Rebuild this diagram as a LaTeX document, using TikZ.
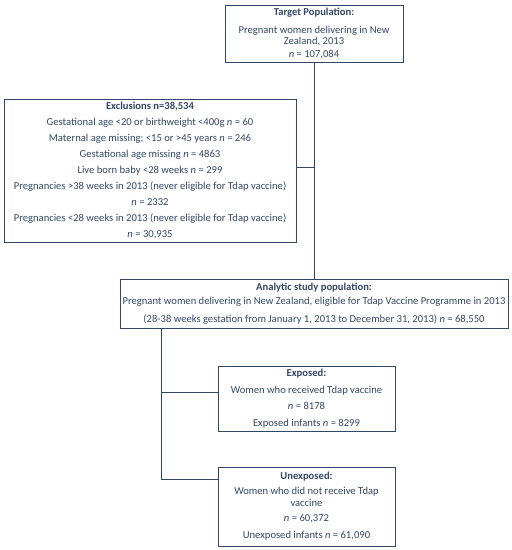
\documentclass[tikz,border=0pt]{standalone}
\usepackage{fontspec}
\setmainfont{Carlito}
\definecolor{chartblue}{RGB}{50,70,102}
\begin{document}
\begin{tikzpicture}[x=1pt, y=-1pt,
  every node/.style={text=chartblue, align=center,
    font=\fontsize{10.6}{12}\selectfont},
  box/.style={draw=chartblue, line width=1pt, inner sep=0pt},
  link/.style={draw=chartblue, line width=1pt}]
\useasboundingbox (0,0) rectangle (512,550);

\node[box, minimum width=178pt, minimum height=57pt] (target) at (314,33.5)
  {\textbf{Target Population:}\\[5.6pt]
   Pregnant women delivering in New\\[-1pt] Zealand, 2013\\[1pt]
   \textit{n} = 107,084};

\node[box, minimum width=292pt, minimum height=143pt] (excl) at (150,170.5)
  {\textbf{Exclusions n=38,534}\\[4pt]
   Gestational age {<}20 or birthweight {<}400g \textit{n} = 60\\[4pt]
   Maternal age missing; {<}15 or {>}45 years \textit{n} = 246\\[4pt]
   Gestational age missing \textit{n} = 4863\\[4pt]
   Live born baby {<}28 weeks \textit{n} = 299\\[4pt]
   Pregnancies {>}38 weeks in 2013 (never eligible for Tdap vaccine)\\[4pt]
   \textit{n} = 2332\\[4pt]
   Pregnancies {<}28 weeks in 2013 (never eligible for Tdap vaccine)\\[4pt]
   \textit{n} = 30,935};

\node[box, minimum width=388pt, minimum height=49pt] (analytic) at (314,303.5)
  {\textbf{Analytic study population:}\\[2pt]
   Pregnant women delivering in New Zealand, eligible for Tdap Vaccine Programme in 2013\\[6pt]
   (28-38 weeks gestation from January 1, 2013 to December 31, 2013) \textit{n} = 68,550};

\node[box, minimum width=177pt, minimum height=65pt] (exposed) at (306.5,398.5)
  {\textbf{Exposed:}\\[4.5pt]
   Women who received Tdap vaccine\\[4.5pt]
   \textit{n} = 8178\\[4.5pt]
   Exposed infants \textit{n} = 8299};

\node[box, minimum width=177pt, minimum height=79pt] (unexposed) at (306.5,506.5)
  {\textbf{Unexposed:}\\[3pt]
   Women who did not receive Tdap\\ vaccine\\[3pt]
   \textit{n} = 60,372\\[5pt]
   Unexposed infants \textit{n} = 61,090};

\coordinate (excljoin) at (314,167);
\coordinate (toexp) at (161,392);
\coordinate (tounexp) at (161,479);

\draw[link] (target.south) -- (analytic.north);
\draw[link] (excljoin -| excl.east) -- (excljoin);
\draw[link] (toexp |- analytic.south) -- (tounexp) -- (tounexp -| unexposed.west);
\draw[link] (toexp) -- (toexp -| exposed.west);
\end{tikzpicture}
\end{document}
